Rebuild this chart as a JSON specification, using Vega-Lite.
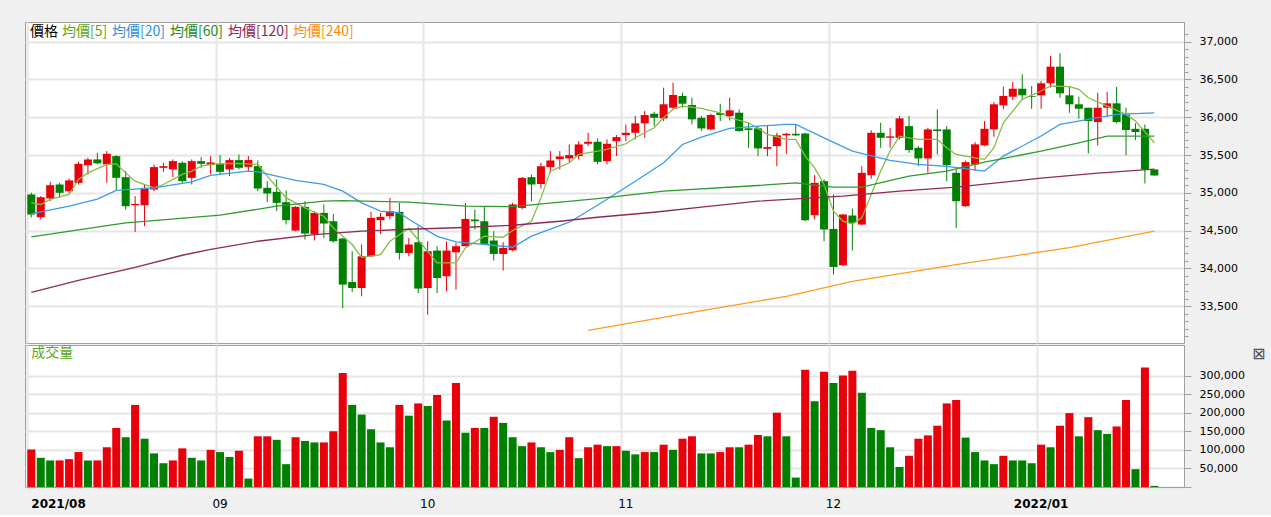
{
  "$schema": "https://vega.github.io/schema/vega-lite/v6.json",
  "background": "#f0f0f0",
  "padding": {"left": 24, "top": 21, "right": 6, "bottom": 5},
  "autosize": {"type": "pad"},
  "spacing": 0,
  "config": {
    "view": {"fill": "#ffffff", "stroke": "#a0a0a0"},
    "axis": {"labelFont": "DejaVu Sans", "labelColor": "#000000", "domainColor": "#a0a0a0", "tickColor": "#a0a0a0", "gridColor": "#e6e6e6", "gridWidth": 2},
    "concat": {"spacing": 0}
  },
  "datasets": {
    "k": [
      {"d":"2021-08-04","o":34978,"h":35000,"l":34677,"c":34713,"v":101000,"vd":"up"},
      {"d":"2021-08-05","o":34677,"h":34956,"l":34647,"c":34942,"v":78600,"vd":"down"},
      {"d":"2021-08-06","o":34925,"h":35145,"l":34889,"c":35101,"v":71500,"vd":"down"},
      {"d":"2021-08-09","o":35110,"h":35132,"l":34933,"c":35000,"v":71500,"vd":"up"},
      {"d":"2021-08-10","o":35022,"h":35190,"l":35000,"c":35164,"v":75000,"vd":"up"},
      {"d":"2021-08-11","o":35132,"h":35410,"l":35110,"c":35384,"v":94000,"vd":"up"},
      {"d":"2021-08-12","o":35366,"h":35463,"l":35243,"c":35442,"v":71500,"vd":"down"},
      {"d":"2021-08-13","o":35442,"h":35529,"l":35376,"c":35389,"v":71500,"vd":"up"},
      {"d":"2021-08-16","o":35376,"h":35552,"l":35132,"c":35516,"v":107000,"vd":"up"},
      {"d":"2021-08-17","o":35486,"h":35499,"l":35031,"c":35198,"v":159000,"vd":"up"},
      {"d":"2021-08-18","o":35207,"h":35287,"l":34779,"c":34823,"v":134000,"vd":"down"},
      {"d":"2021-08-19","o":34836,"h":34956,"l":34483,"c":34853,"v":221000,"vd":"up"},
      {"d":"2021-08-20","o":34836,"h":35110,"l":34558,"c":35066,"v":130000,"vd":"down"},
      {"d":"2021-08-23","o":35044,"h":35375,"l":35022,"c":35340,"v":90500,"vd":"down"},
      {"d":"2021-08-24","o":35331,"h":35397,"l":35278,"c":35353,"v":64000,"vd":"down"},
      {"d":"2021-08-25","o":35309,"h":35442,"l":35207,"c":35419,"v":71500,"vd":"up"},
      {"d":"2021-08-26","o":35397,"h":35419,"l":35118,"c":35154,"v":104000,"vd":"up"},
      {"d":"2021-08-27","o":35198,"h":35442,"l":35110,"c":35419,"v":78600,"vd":"down"},
      {"d":"2021-08-30","o":35419,"h":35472,"l":35331,"c":35384,"v":71500,"vd":"down"},
      {"d":"2021-08-31","o":35366,"h":35486,"l":35243,"c":35402,"v":100000,"vd":"up"},
      {"d":"2021-09-01","o":35384,"h":35499,"l":35243,"c":35278,"v":94000,"vd":"down"},
      {"d":"2021-09-02","o":35309,"h":35463,"l":35221,"c":35433,"v":81000,"vd":"down"},
      {"d":"2021-09-03","o":35433,"h":35508,"l":35309,"c":35331,"v":97600,"vd":"up"},
      {"d":"2021-09-06","o":35344,"h":35486,"l":35287,"c":35433,"v":22700,"vd":"down"},
      {"d":"2021-09-07","o":35353,"h":35428,"l":35022,"c":35057,"v":136500,"vd":"up"},
      {"d":"2021-09-08","o":35066,"h":35154,"l":34876,"c":34991,"v":136500,"vd":"up"},
      {"d":"2021-09-09","o":35013,"h":35177,"l":34757,"c":34867,"v":127000,"vd":"down"},
      {"d":"2021-09-10","o":34876,"h":35031,"l":34581,"c":34638,"v":61500,"vd":"down"},
      {"d":"2021-09-13","o":34501,"h":34823,"l":34492,"c":34814,"v":134000,"vd":"up"},
      {"d":"2021-09-14","o":34814,"h":34889,"l":34382,"c":34461,"v":124000,"vd":"down"},
      {"d":"2021-09-15","o":34456,"h":34757,"l":34369,"c":34734,"v":120000,"vd":"down"},
      {"d":"2021-09-16","o":34734,"h":34845,"l":34403,"c":34594,"v":120000,"vd":"up"},
      {"d":"2021-09-17","o":34624,"h":34721,"l":34340,"c":34359,"v":150000,"vd":"up"},
      {"d":"2021-09-20","o":34395,"h":34403,"l":33476,"c":33786,"v":307000,"vd":"up"},
      {"d":"2021-09-21","o":33820,"h":34227,"l":33688,"c":33741,"v":221000,"vd":"down"},
      {"d":"2021-09-22","o":33741,"h":34316,"l":33631,"c":34160,"v":195000,"vd":"down"},
      {"d":"2021-09-23","o":34160,"h":34748,"l":34147,"c":34668,"v":155500,"vd":"down"},
      {"d":"2021-09-24","o":34638,"h":34734,"l":34456,"c":34682,"v":120000,"vd":"down"},
      {"d":"2021-09-27","o":34690,"h":34933,"l":34647,"c":34757,"v":107000,"vd":"down"},
      {"d":"2021-09-28","o":34748,"h":34867,"l":34117,"c":34204,"v":221000,"vd":"up"},
      {"d":"2021-09-29","o":34204,"h":34403,"l":34160,"c":34316,"v":192000,"vd":"down"},
      {"d":"2021-09-30","o":34346,"h":34558,"l":33674,"c":33733,"v":225000,"vd":"up"},
      {"d":"2021-10-01","o":33741,"h":34359,"l":33388,"c":34227,"v":218000,"vd":"down"},
      {"d":"2021-10-04","o":34236,"h":34293,"l":33674,"c":33873,"v":248000,"vd":"up"},
      {"d":"2021-10-05","o":33896,"h":34359,"l":33697,"c":34236,"v":179000,"vd":"down"},
      {"d":"2021-10-06","o":34213,"h":34337,"l":33720,"c":34293,"v":280000,"vd":"up"},
      {"d":"2021-10-07","o":34293,"h":34867,"l":34293,"c":34655,"v":146000,"vd":"down"},
      {"d":"2021-10-08","o":34647,"h":34779,"l":34514,"c":34624,"v":159000,"vd":"up"},
      {"d":"2021-10-11","o":34624,"h":34823,"l":34316,"c":34324,"v":159000,"vd":"down"},
      {"d":"2021-10-12","o":34369,"h":34492,"l":34104,"c":34191,"v":189000,"vd":"up"},
      {"d":"2021-10-13","o":34191,"h":34346,"l":33971,"c":34271,"v":172600,"vd":"down"},
      {"d":"2021-10-14","o":34240,"h":34867,"l":34227,"c":34846,"v":134000,"vd":"down"},
      {"d":"2021-10-15","o":34800,"h":35210,"l":34779,"c":35198,"v":110000,"vd":"down"},
      {"d":"2021-10-18","o":35207,"h":35243,"l":34889,"c":35110,"v":120000,"vd":"up"},
      {"d":"2021-10-19","o":35118,"h":35397,"l":35057,"c":35353,"v":107000,"vd":"down"},
      {"d":"2021-10-20","o":35340,"h":35552,"l":35265,"c":35428,"v":94000,"vd":"down"},
      {"d":"2021-10-21","o":35446,"h":35552,"l":35309,"c":35481,"v":100000,"vd":"up"},
      {"d":"2021-10-22","o":35455,"h":35640,"l":35397,"c":35499,"v":134000,"vd":"up"},
      {"d":"2021-10-25","o":35486,"h":35684,"l":35442,"c":35640,"v":77800,"vd":"down"},
      {"d":"2021-10-26","o":35649,"h":35794,"l":35618,"c":35675,"v":107000,"vd":"up"},
      {"d":"2021-10-27","o":35675,"h":35720,"l":35376,"c":35410,"v":114000,"vd":"up"},
      {"d":"2021-10-28","o":35419,"h":35707,"l":35376,"c":35649,"v":110000,"vd":"down"},
      {"d":"2021-10-29","o":35684,"h":35764,"l":35486,"c":35737,"v":110000,"vd":"up"},
      {"d":"2021-11-01","o":35764,"h":35905,"l":35684,"c":35794,"v":97600,"vd":"down"},
      {"d":"2021-11-02","o":35794,"h":36016,"l":35707,"c":35919,"v":87800,"vd":"down"},
      {"d":"2021-11-03","o":35919,"h":36082,"l":35728,"c":36029,"v":94000,"vd":"up"},
      {"d":"2021-11-04","o":36046,"h":36073,"l":35883,"c":35993,"v":94000,"vd":"down"},
      {"d":"2021-11-05","o":35985,"h":36391,"l":35949,"c":36171,"v":114000,"vd":"up"},
      {"d":"2021-11-08","o":36126,"h":36457,"l":36104,"c":36294,"v":100000,"vd":"down"},
      {"d":"2021-11-09","o":36281,"h":36324,"l":36126,"c":36179,"v":130000,"vd":"up"},
      {"d":"2021-11-10","o":36161,"h":36258,"l":35905,"c":35972,"v":136500,"vd":"up"},
      {"d":"2021-11-11","o":35993,"h":36016,"l":35817,"c":35852,"v":90500,"vd":"down"},
      {"d":"2021-11-12","o":35839,"h":36046,"l":35826,"c":36029,"v":90500,"vd":"down"},
      {"d":"2021-11-15","o":36055,"h":36178,"l":35949,"c":36029,"v":94000,"vd":"up"},
      {"d":"2021-11-16","o":36016,"h":36258,"l":35958,"c":36091,"v":107000,"vd":"up"},
      {"d":"2021-11-17","o":36060,"h":36104,"l":35808,"c":35817,"v":107000,"vd":"down"},
      {"d":"2021-11-18","o":35853,"h":35927,"l":35596,"c":35830,"v":114000,"vd":"up"},
      {"d":"2021-11-19","o":35853,"h":35883,"l":35486,"c":35588,"v":140000,"vd":"up"},
      {"d":"2021-11-22","o":35582,"h":35883,"l":35486,"c":35605,"v":136500,"vd":"down"},
      {"d":"2021-11-23","o":35618,"h":35794,"l":35353,"c":35760,"v":200000,"vd":"up"},
      {"d":"2021-11-24","o":35760,"h":35794,"l":35516,"c":35781,"v":136500,"vd":"down"},
      {"d":"2021-11-25","o":35781,"h":35905,"l":35750,"c":35760,"v":25500,"vd":"down"},
      {"d":"2021-11-26","o":35786,"h":35794,"l":34624,"c":34638,"v":316000,"vd":"up"},
      {"d":"2021-11-29","o":34704,"h":35234,"l":34647,"c":35132,"v":231000,"vd":"down"},
      {"d":"2021-11-30","o":35154,"h":35177,"l":34359,"c":34514,"v":310000,"vd":"up"},
      {"d":"2021-12-01","o":34522,"h":34978,"l":33918,"c":34019,"v":280000,"vd":"down"},
      {"d":"2021-12-02","o":34041,"h":34721,"l":34028,"c":34713,"v":300000,"vd":"up"},
      {"d":"2021-12-03","o":34700,"h":34793,"l":34236,"c":34602,"v":313000,"vd":"up"},
      {"d":"2021-12-06","o":34580,"h":35353,"l":34571,"c":35264,"v":254000,"vd":"down"},
      {"d":"2021-12-07","o":35234,"h":35826,"l":35185,"c":35794,"v":159000,"vd":"down"},
      {"d":"2021-12-08","o":35794,"h":35927,"l":35596,"c":35728,"v":153000,"vd":"down"},
      {"d":"2021-12-09","o":35728,"h":35861,"l":35596,"c":35747,"v":107000,"vd":"down"},
      {"d":"2021-12-10","o":35728,"h":36016,"l":35707,"c":35985,"v":54000,"vd":"down"},
      {"d":"2021-12-13","o":35883,"h":36016,"l":35529,"c":35565,"v":84000,"vd":"up"},
      {"d":"2021-12-14","o":35596,"h":35618,"l":35353,"c":35455,"v":130000,"vd":"up"},
      {"d":"2021-12-15","o":35455,"h":35861,"l":35264,"c":35839,"v":139000,"vd":"up"},
      {"d":"2021-12-16","o":35839,"h":36104,"l":35508,"c":35817,"v":165000,"vd":"up"},
      {"d":"2021-12-17","o":35839,"h":35883,"l":35154,"c":35366,"v":225000,"vd":"up"},
      {"d":"2021-12-20","o":35264,"h":35309,"l":34536,"c":34889,"v":234000,"vd":"up"},
      {"d":"2021-12-21","o":34823,"h":35428,"l":34814,"c":35406,"v":133000,"vd":"down"},
      {"d":"2021-12-22","o":35376,"h":35671,"l":35287,"c":35641,"v":94000,"vd":"down"},
      {"d":"2021-12-23","o":35627,"h":35949,"l":35618,"c":35847,"v":71500,"vd":"down"},
      {"d":"2021-12-27","o":35839,"h":36201,"l":35741,"c":36171,"v":61500,"vd":"down"},
      {"d":"2021-12-28","o":36158,"h":36404,"l":36104,"c":36281,"v":84000,"vd":"up"},
      {"d":"2021-12-29","o":36271,"h":36466,"l":36228,"c":36377,"v":71500,"vd":"down"},
      {"d":"2021-12-30","o":36377,"h":36568,"l":36237,"c":36290,"v":71500,"vd":"down"},
      {"d":"2021-12-31","o":36281,"h":36413,"l":36112,"c":36271,"v":64000,"vd":"down"},
      {"d":"2022-01-03","o":36290,"h":36479,"l":36112,"c":36449,"v":114000,"vd":"up"},
      {"d":"2022-01-04","o":36449,"h":36811,"l":36391,"c":36669,"v":107000,"vd":"down"},
      {"d":"2022-01-05","o":36669,"h":36846,"l":36258,"c":36316,"v":165000,"vd":"up"},
      {"d":"2022-01-06","o":36290,"h":36413,"l":36059,"c":36171,"v":199000,"vd":"up"},
      {"d":"2022-01-07","o":36171,"h":36271,"l":35980,"c":36112,"v":136500,"vd":"down"},
      {"d":"2022-01-10","o":36126,"h":36126,"l":35521,"c":35949,"v":188000,"vd":"up"},
      {"d":"2022-01-11","o":35936,"h":36324,"l":35627,"c":36126,"v":153000,"vd":"down"},
      {"d":"2022-01-12","o":36126,"h":36334,"l":36006,"c":36184,"v":143000,"vd":"down"},
      {"d":"2022-01-13","o":36184,"h":36400,"l":35919,"c":35936,"v":163000,"vd":"up"},
      {"d":"2022-01-14","o":36038,"h":36126,"l":35495,"c":35830,"v":234000,"vd":"up"},
      {"d":"2022-01-17","o":35847,"h":35919,"l":35698,"c":35804,"v":48000,"vd":"down"},
      {"d":"2022-01-18","o":35847,"h":35905,"l":35124,"c":35309,"v":322000,"vd":"up"},
      {"d":"2022-01-19","o":35309,"h":35309,"l":35229,"c":35229,"v":3000,"vd":"down"}
    ],
    "ma": [
      {"d":"2021-08-04","s":"均價[5]","p":34867},{"d":"2021-08-05","s":"均價[5]","p":34846},{"d":"2021-08-06","s":"均價[5]","p":34912},{"d":"2021-08-10","s":"均價[5]","p":34978},{"d":"2021-08-11","s":"均價[5]","p":35177},{"d":"2021-08-12","s":"均價[5]","p":35264},{"d":"2021-08-16","s":"均價[5]","p":35376},{"d":"2021-08-17","s":"均價[5]","p":35384},{"d":"2021-08-18","s":"均價[5]","p":35264},{"d":"2021-08-19","s":"均價[5]","p":35154},{"d":"2021-08-23","s":"均價[5]","p":35066},{"d":"2021-08-24","s":"均價[5]","p":35110},{"d":"2021-08-26","s":"均價[5]","p":35243},{"d":"2021-08-27","s":"均價[5]","p":35287},{"d":"2021-08-30","s":"均價[5]","p":35353},{"d":"2021-08-31","s":"均價[5]","p":35376},{"d":"2021-09-02","s":"均價[5]","p":35390},{"d":"2021-09-06","s":"均價[5]","p":35384},{"d":"2021-09-07","s":"均價[5]","p":35376},{"d":"2021-09-08","s":"均價[5]","p":35221},{"d":"2021-09-10","s":"均價[5]","p":34933},{"d":"2021-09-14","s":"均價[5]","p":34800},{"d":"2021-09-16","s":"均價[5]","p":34690},{"d":"2021-09-17","s":"均價[5]","p":34536},{"d":"2021-09-21","s":"均價[5]","p":34316},{"d":"2021-09-22","s":"均價[5]","p":34147},{"d":"2021-09-24","s":"均價[5]","p":34183},{"d":"2021-09-27","s":"均價[5]","p":34359},{"d":"2021-09-29","s":"均價[5]","p":34528},{"d":"2021-10-04","s":"均價[5]","p":34072},{"d":"2021-10-06","s":"均價[5]","p":34072},{"d":"2021-10-07","s":"均價[5]","p":34271},{"d":"2021-10-11","s":"均價[5]","p":34426},{"d":"2021-10-13","s":"均價[5]","p":34412},{"d":"2021-10-14","s":"均價[5]","p":34501},{"d":"2021-10-18","s":"均價[5]","p":34624},{"d":"2021-10-19","s":"均價[5]","p":34933},{"d":"2021-10-20","s":"均價[5]","p":35287},{"d":"2021-10-22","s":"均價[5]","p":35397},{"d":"2021-10-25","s":"均價[5]","p":35508},{"d":"2021-10-27","s":"均價[5]","p":35552},{"d":"2021-10-28","s":"均價[5]","p":35574},{"d":"2021-11-01","s":"均價[5]","p":35649},{"d":"2021-11-02","s":"均價[5]","p":35728},{"d":"2021-11-04","s":"均價[5]","p":35860},{"d":"2021-11-05","s":"均價[5]","p":35993},{"d":"2021-11-08","s":"均價[5]","p":36104},{"d":"2021-11-09","s":"均價[5]","p":36148},{"d":"2021-11-11","s":"均價[5]","p":36118},{"d":"2021-11-15","s":"均價[5]","p":36059},{"d":"2021-11-16","s":"均價[5]","p":35993},{"d":"2021-11-18","s":"均價[5]","p":35927},{"d":"2021-11-22","s":"均價[5]","p":35773},{"d":"2021-11-24","s":"均價[5]","p":35707},{"d":"2021-11-25","s":"均價[5]","p":35707},{"d":"2021-11-26","s":"均價[5]","p":35486},{"d":"2021-11-29","s":"均價[5]","p":35330},{"d":"2021-11-30","s":"均價[5]","p":35111},{"d":"2021-12-01","s":"均價[5]","p":34757},{"d":"2021-12-02","s":"均價[5]","p":34624},{"d":"2021-12-03","s":"均價[5]","p":34588},{"d":"2021-12-06","s":"均價[5]","p":34668},{"d":"2021-12-07","s":"均價[5]","p":34978},{"d":"2021-12-08","s":"均價[5]","p":35287},{"d":"2021-12-09","s":"均價[5]","p":35552},{"d":"2021-12-10","s":"均價[5]","p":35750},{"d":"2021-12-13","s":"均價[5]","p":35728},{"d":"2021-12-14","s":"均價[5]","p":35707},{"d":"2021-12-16","s":"均價[5]","p":35707},{"d":"2021-12-17","s":"均價[5]","p":35596},{"d":"2021-12-20","s":"均價[5]","p":35508},{"d":"2021-12-22","s":"均價[5]","p":35463},{"d":"2021-12-23","s":"均價[5]","p":35442},{"d":"2021-12-27","s":"均價[5]","p":35596},{"d":"2021-12-28","s":"均價[5]","p":35927},{"d":"2021-12-30","s":"均價[5]","p":36237},{"d":"2022-01-03","s":"均價[5]","p":36347},{"d":"2022-01-04","s":"均價[5]","p":36413},{"d":"2022-01-06","s":"均價[5]","p":36404},{"d":"2022-01-07","s":"均價[5]","p":36369},{"d":"2022-01-10","s":"均價[5]","p":36258},{"d":"2022-01-12","s":"均價[5]","p":36148},{"d":"2022-01-14","s":"均價[5]","p":36038},{"d":"2022-01-17","s":"均價[5]","p":35949},{"d":"2022-01-19","s":"均價[5]","p":35662},
      {"d":"2021-08-04","s":"均價[20]","p":34721},{"d":"2021-08-10","s":"均價[20]","p":34823},{"d":"2021-08-13","s":"均價[20]","p":34916},{"d":"2021-08-17","s":"均價[20]","p":35031},{"d":"2021-08-23","s":"均價[20]","p":35066},{"d":"2021-08-27","s":"均價[20]","p":35145},{"d":"2021-08-31","s":"均價[20]","p":35230},{"d":"2021-09-06","s":"均價[20]","p":35287},{"d":"2021-09-07","s":"均價[20]","p":35278},{"d":"2021-09-13","s":"均價[20]","p":35164},{"d":"2021-09-16","s":"均價[20]","p":35111},{"d":"2021-09-20","s":"均價[20]","p":35022},{"d":"2021-09-22","s":"均價[20]","p":34867},{"d":"2021-09-24","s":"均價[20]","p":34757},{"d":"2021-09-28","s":"均價[20]","p":34735},{"d":"2021-09-29","s":"均價[20]","p":34650},{"d":"2021-10-04","s":"均價[20]","p":34425},{"d":"2021-10-06","s":"均價[20]","p":34350},{"d":"2021-10-13","s":"均價[20]","p":34293},{"d":"2021-10-14","s":"均價[20]","p":34280},{"d":"2021-10-18","s":"均價[20]","p":34426},{"d":"2021-10-22","s":"均價[20]","p":34611},{"d":"2021-10-27","s":"均價[20]","p":34836},{"d":"2021-11-02","s":"均價[20]","p":35154},{"d":"2021-11-05","s":"均價[20]","p":35397},{"d":"2021-11-09","s":"均價[20]","p":35640},{"d":"2021-11-11","s":"均價[20]","p":35737},{"d":"2021-11-16","s":"均價[20]","p":35853},{"d":"2021-11-19","s":"均價[20]","p":35883},{"d":"2021-11-24","s":"均價[20]","p":35906},{"d":"2021-11-25","s":"均價[20]","p":35906},{"d":"2021-11-30","s":"均價[20]","p":35728},{"d":"2021-12-03","s":"均價[20]","p":35552},{"d":"2021-12-09","s":"均價[20]","p":35429},{"d":"2021-12-14","s":"均價[20]","p":35376},{"d":"2021-12-17","s":"均價[20]","p":35350},{"d":"2021-12-23","s":"均價[20]","p":35287},{"d":"2021-12-28","s":"均價[20]","p":35486},{"d":"2022-01-03","s":"均價[20]","p":35751},{"d":"2022-01-05","s":"均價[20]","p":35906},{"d":"2022-01-10","s":"均價[20]","p":35972},{"d":"2022-01-13","s":"均價[20]","p":36038},{"d":"2022-01-19","s":"均價[20]","p":36059},
      {"d":"2021-08-04","s":"均價[60]","p":34416},{"d":"2021-08-18","s":"均價[60]","p":34602},{"d":"2021-09-01","s":"均價[60]","p":34704},{"d":"2021-09-09","s":"均價[60]","p":34823},{"d":"2021-09-16","s":"均價[60]","p":34889},{"d":"2021-09-20","s":"均價[60]","p":34898},{"d":"2021-09-29","s":"均價[60]","p":34876},{"d":"2021-10-07","s":"均價[60]","p":34823},{"d":"2021-10-14","s":"均價[60]","p":34816},{"d":"2021-10-27","s":"均價[60]","p":34922},{"d":"2021-11-05","s":"均價[60]","p":35022},{"d":"2021-11-19","s":"均價[60]","p":35097},{"d":"2021-11-25","s":"均價[60]","p":35132},{"d":"2021-12-01","s":"均價[60]","p":35075},{"d":"2021-12-06","s":"均價[60]","p":35075},{"d":"2021-12-13","s":"均價[60]","p":35220},{"d":"2021-12-17","s":"均價[60]","p":35287},{"d":"2021-12-23","s":"均價[60]","p":35406},{"d":"2022-01-03","s":"均價[60]","p":35552},{"d":"2022-01-07","s":"均價[60]","p":35662},{"d":"2022-01-12","s":"均價[60]","p":35751},{"d":"2022-01-19","s":"均價[60]","p":35751},
      {"d":"2021-08-04","s":"均價[120]","p":33683},{"d":"2021-08-11","s":"均價[120]","p":33843},{"d":"2021-08-19","s":"均價[120]","p":34015},{"d":"2021-08-26","s":"均價[120]","p":34174},{"d":"2021-08-31","s":"均價[120]","p":34253},{"d":"2021-09-07","s":"均價[120]","p":34359},{"d":"2021-09-15","s":"均價[120]","p":34448},{"d":"2021-09-22","s":"均價[120]","p":34492},{"d":"2021-09-29","s":"均價[120]","p":34518},{"d":"2021-10-06","s":"均價[120]","p":34538},{"d":"2021-10-14","s":"均價[120]","p":34571},{"d":"2021-10-21","s":"均價[120]","p":34624},{"d":"2021-10-27","s":"均價[120]","p":34677},{"d":"2021-11-04","s":"均價[120]","p":34743},{"d":"2021-11-11","s":"均價[120]","p":34810},{"d":"2021-11-19","s":"均價[120]","p":34889},{"d":"2021-12-02","s":"均價[120]","p":34955},{"d":"2021-12-10","s":"均價[120]","p":35022},{"d":"2021-12-20","s":"均價[120]","p":35075},{"d":"2022-01-03","s":"均價[120]","p":35194},{"d":"2022-01-11","s":"均價[120]","p":35260},{"d":"2022-01-19","s":"均價[120]","p":35313},
      {"d":"2021-10-26","s":"均價[240]","p":33180},{"d":"2021-11-10","s":"均價[240]","p":33418},{"d":"2021-11-24","s":"均價[240]","p":33630},{"d":"2021-12-03","s":"均價[240]","p":33829},{"d":"2021-12-20","s":"均價[240]","p":34050},{"d":"2022-01-06","s":"均價[240]","p":34274},{"d":"2022-01-19","s":"均價[240]","p":34492}
    ]
  },
  "vconcat": [
    {
      "width": 1159,
      "height": 321,
      "resolve": {"axis": {"y": "independent"}},
      "layer": [
        {
          "data": {"name": "k"},
          "mark": {"type": "rule", "strokeWidth": 1},
          "encoding": {
            "x": {"field": "d", "type": "ordinal",
              "scale": {"type": "band", "domain": {"unionWith": ["2022-01-20","2022-01-21"]}, "paddingInner": 0.15, "paddingOuter": 0.48, "align": 0.254},
              "axis": {"values": ["2021-08-04","2021-09-01","2021-10-01","2021-11-01","2021-12-01","2022-01-03"], "bandPosition": 0, "labels": false, "ticks": false, "domain": false, "grid": true, "title": null, "minExtent": 0, "maxExtent": 0, "labelPadding": 0, "offset": 0}},
            "y": {"field": "l", "type": "quantitative", "scale": {"domain": [33013, 37260], "nice": false, "zero": false},
              "axis": {"orient": "right", "title": null, "grid": false, "tickCount": 100,
                "values": [33100,33200,33300,33400,33500,33600,33700,33800,33900,34000,34100,34200,34300,34400,34500,34600,34700,34800,34900,35000,35100,35200,35300,35400,35500,35600,35700,35800,35900,36000,36100,36200,36300,36400,36500,36600,36700,36800,36900,37000,37100],
                "labelExpr": "datum.value % 500 === 0 ? format(datum.value, ',') : ''",
                "tickSize": {"condition": {"test": "datum.value % 500 === 0", "value": 7}, "value": 4},
                "labelOverlap": false, "labelPadding": 8, "labelFontSize": 11}},
            "y2": {"field": "h"},
            "color": {"condition": {"test": "datum.c >= datum.o", "value": "#e8000b"}, "value": "#008000"}
          }
        },
        {
          "data": {"name": "k"},
          "mark": {"type": "bar"},
          "encoding": {
            "x": {"field": "d", "type": "ordinal"},
            "y": {"field": "o", "type": "quantitative",
              "axis": {"orient": "left", "title": null, "grid": true, "labels": false, "ticks": false, "domain": false, "tickCount": 20, "minExtent": 0, "maxExtent": 0,
                "values": [33500,34000,34500,35000,35500,36000,36500,37000]}},
            "y2": {"field": "c"},
            "color": {"condition": {"test": "datum.c >= datum.o", "value": "#e8000b"}, "value": "#008000"}
          }
        },
        {
          "data": {"name": "ma"},
          "mark": {"type": "line", "strokeWidth": 1.3},
          "encoding": {
            "x": {"field": "d", "type": "ordinal"},
            "y": {"field": "p", "type": "quantitative", "axis": null},
            "color": {"field": "s", "type": "nominal",
              "scale": {"domain": ["價格","均價[5]","均價[20]","均價[60]","均價[120]","均價[240]"], "range": ["#000000","#86bd45","#3d9be9","#2e9b2e","#8e2a5a","#ff9c1f"]},
              "legend": {"orient": "top-left", "direction": "horizontal", "title": null, "offset": 3, "padding": 0,
                "symbolSize": 0, "symbolStrokeWidth": 0, "symbolOpacity": 0, "labelOffset": -12, "columnPadding": 2,
                "labelFont": "Noto Sans CJK TC", "labelFontSize": 14, "labelLimit": 200,
                "encode": {"labels": {"update": {"fill": {"signal": "datum.value === '價格' ? '#000000' : datum.value === '均價[5]' ? '#5fa51c' : datum.value === '均價[20]' ? '#2b8fe0' : datum.value === '均價[60]' ? '#1d8a1d' : datum.value === '均價[120]' ? '#8b2252' : '#ff8c00'"}}}}}
            }
          }
        }
      ]
    },
    {
      "width": 1159,
      "height": 142,
      "layer": [
        {
          "data": {"name": "k"},
          "mark": {"type": "bar"},
          "encoding": {
            "x": {"field": "d", "type": "ordinal",
              "scale": {"type": "band", "domain": {"unionWith": ["2022-01-20","2022-01-21"]}, "paddingInner": 0.15, "paddingOuter": 0.48, "align": 0.254},
              "axis": {"values": ["2021-08-04","2021-09-01","2021-10-01","2021-11-01","2021-12-01","2022-01-03"], "bandPosition": 0, "ticks": false, "grid": true, "title": null, "labelAngle": 0, "labelPadding": 11, "labelFontSize": 12,
                "labelExpr": "datum.value === '2021-08-04' ? '2021/08' : datum.value === '2022-01-03' ? '2022/01' : slice(datum.value, 5, 7)",
                "labelAlign": {"condition": {"test": "datum.value === '2021-08-04'", "value": "left"}, "value": "center"},
                "labelFontWeight": {"condition": {"test": "datum.value === '2021-08-04' || datum.value === '2022-01-03'", "value": "bold"}, "value": "normal"},
                "labelOverlap": false}},
            "y": {"field": "v", "type": "quantitative", "scale": {"domain": [0, 382300], "nice": false},
              "axis": {"orient": "right", "tickCount": 20, "values": [0,50000,100000,150000,200000,250000,300000], "labelExpr": "datum.value === 0 ? '' : format(datum.value, ',')", "tickSize": 7, "labelPadding": 8, "labelFontSize": 11, "labelOverlap": false,
                "title": "⊠", "titleAngle": 0, "titleAnchor": "end", "titleAlign": "left", "titleBaseline": "top", "titlePadding": 7, "titleFont": "DejaVu Sans", "titleFontSize": 16, "titleFontWeight": "normal", "titleColor": "#505050"}},
            "color": {"condition": {"test": "datum.vd === 'up'", "value": "#e8000b"}, "value": "#008000"}
          }
        },
        {
          "data": {"values": [{}]},
          "mark": {"type": "text", "align": "left", "baseline": "top", "font": "Noto Sans CJK TC", "fontSize": 14, "color": "#5fa51c", "dy": 1},
          "encoding": {
            "x": {"datum": "2021-08-04", "type": "ordinal"},
            "y": {"datum": 382300, "type": "quantitative"},
            "text": {"value": "成交量"}
          }
        }
      ]
    }
  ]
}
